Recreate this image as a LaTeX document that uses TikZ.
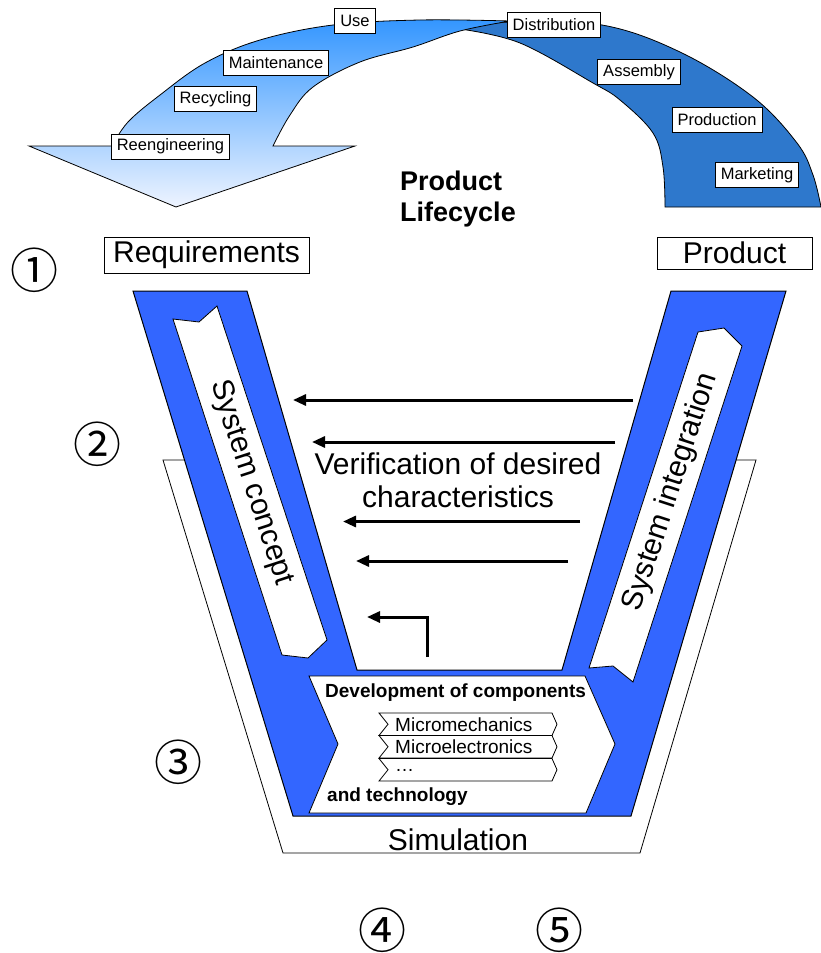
\documentclass[tikz,border=0pt]{standalone}
\usepackage{fontspec}
\setmainfont{Liberation Sans}
\newfontfamily\cjkfont{Noto Sans CJK JP}
\usetikzlibrary{arrows.meta}
\definecolor{vblue}{RGB}{51,102,255}
\definecolor{dblue}{RGB}{46,120,204}
\definecolor{lbtop}{RGB}{51,150,255}
\definecolor{lbbot}{RGB}{238,244,255}
\begin{document}
\begin{tikzpicture}[x=1pt,y=-1pt,
  outl/.style={draw=black,line width=0.8pt},
  lab/.style={draw=black,fill=white,line width=0.8pt,inner xsep=5.5pt,inner ysep=0pt,minimum height=25pt,font=\fontsize{16.5}{18}\selectfont},
  bigbox/.style={draw=black,fill=white,line width=0.8pt,inner sep=0pt,font=\fontsize{30}{33}\selectfont},
  big/.style={inner sep=0pt,font=\fontsize{30}{33}\selectfont},
  devtxt/.style={inner sep=0pt,anchor=west,font=\bfseries\fontsize{19}{21}\selectfont},
  comptxt/.style={inner sep=0pt,anchor=west,font=\fontsize{19}{21}\selectfont},
  circnum/.style={inner sep=0pt,font=\cjkfont\fontsize{48}{48}\selectfont},
  varrow/.style={line width=3pt,-{Triangle[length=13pt,width=11pt]}},
  comp/.style={draw=black,fill=white,line width=0.8pt}
]
\useasboundingbox (0,0) rectangle (820,953);

% ---- lifecycle arc: dark right band
\filldraw[fill=dblue,outl] plot[smooth,tension=0.6] coordinates {(460,29)(510,22)(602,25)(680,52)(753,97)(797,143)(813,175)(821,207)}
  -- (665,207) -- plot[smooth,tension=0.6] coordinates {(665,207)(663,167)(653,133)(620,100)(593,83)(520,43)(460,29)} -- cycle;
% ---- light left band with arrowhead
\draw[outl,top color=lbtop,bottom color=lbbot]
  plot[smooth,tension=0.6] coordinates {(510,21)(420,20)(333,25)(260,40)(205,63)(160,95)(128,122)(112,146)}
  -- (29,146) -- (176,207) -- (355,146) -- (273,146)
  -- plot[smooth,tension=0.6] coordinates {(273,146)(290,115)(313,87)(360,62)(413,47)(460,31)(510,21)} -- cycle;

% ---- arc labels
\node[lab] (use) at (355,21) {Use};
\node[lab] (maint) at (276,63) {Maintenance};
\node[lab] (recy) at (215.5,99) {Recycling};
\node[lab] (reeng) at (170.5,146.5) {Reengineering};
\node[lab] (distr) at (554,25) {Distribution};
\node[lab] (assem) at (639,72) {Assembly};
\node[lab] (prod) at (717,119.5) {Production};
\node[lab] (mark) at (757,175) {Marketing};

\node[inner sep=0pt,align=left,anchor=west,font=\bfseries\fontsize{27}{31}\selectfont] (plc) at (400,199.5) {Product\\Lifecycle};

% ---- requirements / product
\node[bigbox,minimum width=205pt,minimum height=36pt] (req) at (206.5,255) {Requirements};
\node[bigbox,minimum width=155pt,minimum height=32pt] (product) at (734.5,253) {Product};

% ---- simulation trough
\draw[line width=0.8pt] (190,460) -- (163,460) -- (283,853) -- (640,853) -- (756,460) -- (730,460);
% ---- blue V
\filldraw[fill=vblue,draw=black,line width=1pt] (133,291) -- (247,291) -- (357,670) -- (562,670) -- (671,291) -- (786,291) -- (631,816) -- (293,816) -- cycle;

% ---- system concept chevron
\filldraw[comp] (173,319) -- (199,322) -- (217,306) -- (327,640) -- (308,658) -- (282,655) -- cycle;
\node[big,rotate=-72] (sc) at (251,483) {System concept};
% ---- system integration chevron
\filldraw[comp] (698,332) -- (724,328) -- (742,346) -- (633,682) -- (613,666) -- (589,668) -- cycle;
\node[big,rotate=72] (si) at (671,492) {System integration};

% ---- verification arrows
\node[big,align=center] (ver) at (458,480) {Verification of desired\\characteristics};
\coordinate (a1s) at (633,400); \coordinate (a1e) at (293,400);
\coordinate (a2s) at (615,442); \coordinate (a2e) at (312,442);
\coordinate (a3s) at (580,521.5); \coordinate (a3e) at (343,521.5);
\coordinate (a4s) at (568,561); \coordinate (a4e) at (356,561);
\coordinate (a5s) at (427,657); \coordinate (a5e) at (367,617);
\draw[varrow] (a1s) -- (a1e);
\draw[varrow] (a2s) -- (a2e);
\draw[varrow] (a3s) -- (a3e);
\draw[varrow] (a4s) -- (a4e);
\draw[varrow] (a5s) |- (a5e);

% ---- development of components
\filldraw[comp] (309,676) -- (585,676) -- (615,744) -- (586,813) -- (309,813) -- (338,744) -- cycle;
\node[devtxt] (dev) at (325,693) {Development of components};
\node[devtxt] (tech) at (327,797) {and technology};
\foreach \t/\n in {713/c1,735.5/c2,758.5/c3}{
  \filldraw[comp] (379,\t) -- (552,\t) -- (557,\t+11.25) -- (552,\t+22.5) -- (379,\t+22.5) -- (388,\t+11.25) -- cycle;
}
\node[comptxt] (mm) at (395,724.5) {Micromechanics};
\node[comptxt] (me) at (395,747) {Microelectronics};
\node[comptxt] (dots) at (395,770) {…};

\node[big] (sim) at (458,840) {Simulation};

% ---- circled numbers
\node[circnum] (n1) at (34,270) {①};
\node[circnum] (n2) at (97,444) {②};
\node[circnum] (n3) at (178,762) {③};
\node[circnum] (n4) at (382,930) {④};
\node[circnum] (n5) at (559,930) {⑤};
\end{tikzpicture}
\end{document}
